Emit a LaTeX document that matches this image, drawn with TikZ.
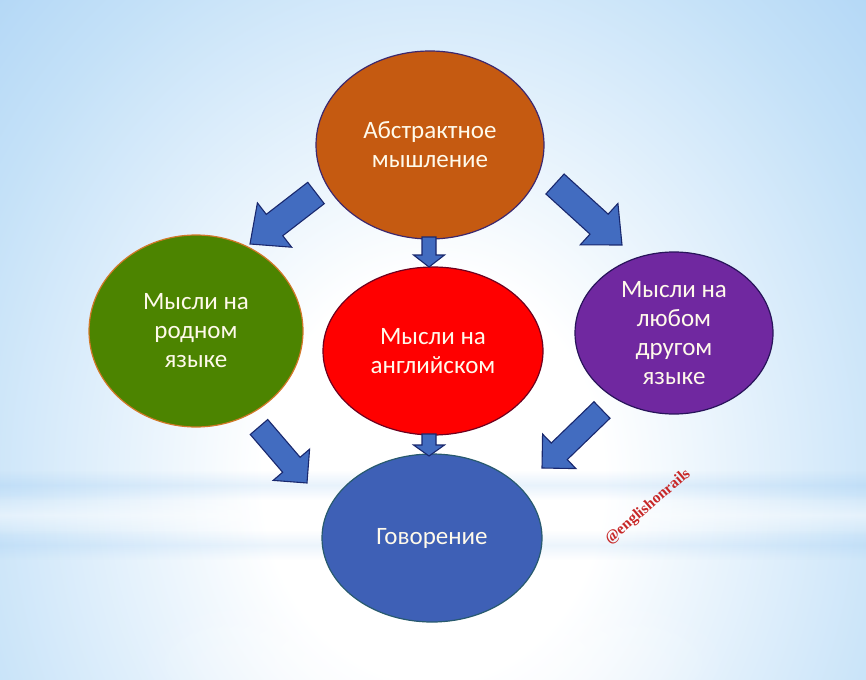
\documentclass[tikz,border=0pt]{standalone}
\usepackage{fontspec}
\setmainfont{Carlito}
\newfontfamily\wmfont{Liberation Serif}
\usetikzlibrary{shapes.geometric,calc,fadings}
\definecolor{bgblue}{RGB}{128,186,240}
\definecolor{bgmid}{RGB}{196,225,248}
\definecolor{txt}{RGB}{255,250,235}
\definecolor{fOrange}{RGB}{197,90,17}
\definecolor{dOrange}{RGB}{60,40,110}
\definecolor{fGreen}{RGB}{76,132,0}
\definecolor{dGreen}{RGB}{210,120,40}
\definecolor{fRed}{RGB}{255,0,0}
\definecolor{dRed}{RGB}{110,0,30}
\definecolor{fPurple}{RGB}{112,40,160}
\definecolor{dPurple}{RGB}{40,20,90}
\definecolor{fBlue}{RGB}{62,96,182}
\definecolor{dBlue}{RGB}{40,90,110}
\definecolor{fArrow}{RGB}{66,108,192}
\definecolor{dArrow}{RGB}{25,40,110}
\definecolor{wmred}{RGB}{200,40,40}
\pgfdeclareradialshading{bgshade}{\pgfpoint{0bp}{0bp}}{color(0bp)=(white); color(9bp)=(white); color(26bp)=(bgmid); color(50bp)=(bgblue)}
\tikzfading[name=bandfade, top color=transparent!100, bottom color=transparent!100, middle color=transparent!0]
\tikzfading[name=spotfade, inner color=transparent!0, outer color=transparent!100]
\newcommand\blockarrow[5]{%
  \coordinate (ba-b) at ($(#2)!#5!(#1)$);
  \draw[barrowstyle] ($(#1)!#3!90:(#2)$) -- ($(ba-b)!#3!90:(#2)$) -- ($(ba-b)!#4!90:(#2)$) -- (#2)
    -- ($(ba-b)!#4!-90:(#2)$) -- ($(ba-b)!#3!-90:(#2)$) -- ($(#1)!#3!-90:(#2)$) -- cycle;}
\begin{document}
\begin{tikzpicture}[x=1pt,y=-1pt,
  bub/.style={ellipse, line width=1.2pt, inner sep=0pt, align=center, text=txt,
    font=\fontsize{25}{29}\selectfont},
  barrowstyle/.style={fill=fArrow, draw=dArrow, line width=1.1pt, line join=miter}]
\useasboundingbox (0,0) rectangle (866,679);
\begin{scope}
  \clip (0,0) rectangle (866,679);
  \shade[shading=bgshade] (-40,-80) rectangle (906,1040);
  \fill[white,opacity=0.45,path fading=bandfade] (0,495) rectangle (866,535);
  \fill[bgblue,opacity=0.18,path fading=bandfade] (0,470) rectangle (866,500);
  \fill[bgblue,opacity=0.15,path fading=bandfade] (0,530) rectangle (866,560);
  \fill[white,opacity=0.7,path fading=spotfade] (433,660) ellipse [x radius=300, y radius=90];
\end{scope}
\node[bub, fill=fOrange, draw=dOrange, minimum width=228pt, minimum height=188pt] (abs) at (430,145) {Абстрактное\\мышление};
\node[bub, fill=fGreen, draw=dGreen, minimum width=214pt, minimum height=192pt] (nat) at (196,331) {Мысли на\\родном\\языке};
\node[bub, fill=fRed, draw=dRed, minimum width=220pt, minimum height=168pt] (eng) at (433,351) {Мысли на\\английском};
\node[bub, fill=fPurple, draw=dPurple, minimum width=198pt, minimum height=162pt] (oth) at (674,333) {Мысли на\\любом\\другом\\языке};
\node[bub, fill=fBlue, draw=dBlue, minimum width=220pt, minimum height=168pt] (spk) at (432,538) {Говорение};
\coordinate (tlA) at (316,193); \coordinate (tlB) at (250,244);
\coordinate (trA) at (555,184); \coordinate (trB) at (622,245);
\coordinate (blA) at (259,427); \coordinate (blB) at (307,483);
\coordinate (brA) at (602,410); \coordinate (brB) at (542,468);
\coordinate (tcA) at (429,237); \coordinate (tcB) at (429,267);
\coordinate (bcA) at (429,434); \coordinate (bcB) at (429,456);
\blockarrow{tlA}{tlB}{13.5pt}{28pt}{31pt}
\blockarrow{trA}{trB}{13.5pt}{28pt}{31pt}
\blockarrow{blA}{blB}{11.5pt}{24pt}{24pt}
\blockarrow{brA}{brB}{11.5pt}{24pt}{24pt}
\blockarrow{tcA}{tcB}{7pt}{15.5pt}{12pt}
\blockarrow{bcA}{bcB}{7pt}{15.5pt}{11pt}
\node[rotate=40.5, text=wmred, inner sep=0pt, font=\wmfont\bfseries\fontsize{15.5}{17}\selectfont] (wm) at (648,507) {@englishonrails};
\end{tikzpicture}
\end{document}
